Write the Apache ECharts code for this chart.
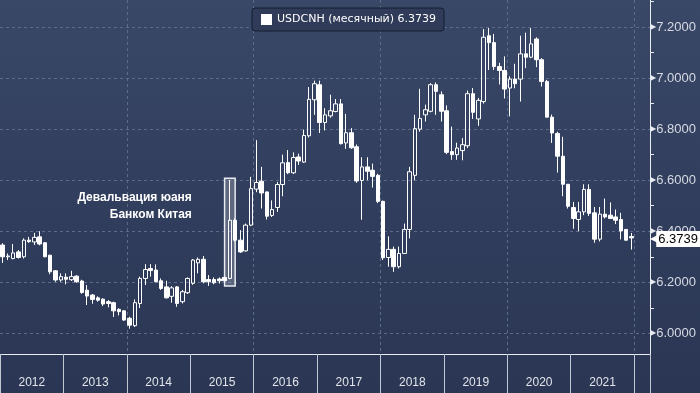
<!DOCTYPE html>
<html><head><meta charset="utf-8">
<script src="https://cdn.jsdelivr.net/npm/echarts@6/dist/echarts.min.js"></script>
<style>
html,body{margin:0;padding:0;background:#2f3c5a;}
#c{width:700px;height:393px;background:linear-gradient(to bottom,#3a4868 0%,#303d5c 55%,#2a3653 100%);}
</style>
</head><body><div id="c"></div>
<script>
// ---- data (monthly USDCNH, Jan 2012 .. Dec 2021) ----
const seriesName = 'USDCNH (месячный)';
const firstYear = 2012;
const extraMonths = 3; // empty slots after the last candle (Jan-Mar 2022)
const opens = [
6.346,6.300,6.293,6.319,6.300,6.365,6.358,6.378,6.355,6.306,6.245,6.209,
6.220,6.210,6.224,6.205,6.169,6.150,6.139,6.134,6.124,6.120,6.094,6.088,
6.059,6.030,6.117,6.215,6.254,6.248,6.206,6.182,6.145,6.182,6.124,6.159,
6.196,6.276,6.290,6.211,6.211,6.213,6.219,6.215,6.443,6.365,6.323,6.424,
6.565,6.596,6.554,6.462,6.493,6.583,6.669,6.629,6.691,6.671,6.774,6.915,
6.974,6.826,6.852,6.869,6.899,6.746,6.786,6.731,6.599,6.652,6.639,6.619,
6.517,6.297,6.329,6.261,6.313,6.407,6.619,6.800,6.856,6.870,6.974,6.935,
6.872,6.712,6.700,6.716,6.735,6.939,6.840,6.908,7.166,7.139,7.045,7.030,
6.961,6.996,6.996,7.095,7.082,7.153,7.072,6.987,6.847,6.783,6.694,6.584,
6.493,6.446,6.476,6.564,6.472,6.369,6.467,6.463,6.456,6.446,6.407,6.379];
const closes = [
6.300,6.303,6.315,6.297,6.365,6.359,6.376,6.350,6.300,6.241,6.209,6.222,
6.212,6.222,6.202,6.160,6.146,6.133,6.130,6.115,6.117,6.088,6.085,6.052,
6.032,6.120,6.215,6.250,6.246,6.202,6.176,6.139,6.178,6.117,6.163,6.215,
6.287,6.290,6.202,6.202,6.198,6.206,6.206,6.443,6.365,6.319,6.424,6.567,
6.591,6.550,6.459,6.485,6.583,6.668,6.629,6.689,6.675,6.775,6.917,6.978,
6.826,6.856,6.872,6.899,6.743,6.786,6.727,6.597,6.652,6.635,6.615,6.517,
6.296,6.329,6.261,6.313,6.407,6.633,6.802,6.842,6.876,6.974,6.948,6.870,
6.709,6.700,6.726,6.739,6.939,6.866,6.913,7.160,7.139,7.045,7.030,6.957,
6.996,6.978,7.095,7.082,7.134,7.072,6.987,6.847,6.785,6.694,6.584,6.498,
6.450,6.476,6.564,6.470,6.369,6.467,6.456,6.450,6.443,6.401,6.365,6.3739];
const lows = [
6.276,6.287,6.290,6.293,6.293,6.355,6.346,6.345,6.298,6.232,6.202,6.202,
6.192,6.205,6.198,6.155,6.111,6.116,6.124,6.107,6.102,6.064,6.070,6.049,
6.018,6.025,6.099,6.189,6.222,6.200,6.170,6.137,6.120,6.104,6.117,6.154,
6.190,6.235,6.196,6.186,6.192,6.195,6.203,6.212,6.359,6.315,6.320,6.420,
6.553,6.489,6.446,6.456,6.476,6.537,6.624,6.624,6.660,6.668,6.767,6.856,
6.785,6.795,6.845,6.866,6.740,6.723,6.723,6.590,6.445,6.600,6.571,6.510,
6.287,6.261,6.241,6.254,6.313,6.372,6.600,6.790,6.830,6.866,6.856,6.830,
6.702,6.680,6.680,6.678,6.726,6.840,6.813,6.900,7.032,7.032,6.975,6.920,
6.850,6.960,6.908,7.039,7.078,7.043,6.967,6.847,6.746,6.630,6.537,6.489,
6.410,6.400,6.463,6.460,6.355,6.360,6.450,6.448,6.428,6.368,6.363,6.328];
const highs = [
6.353,6.313,6.350,6.326,6.372,6.378,6.394,6.400,6.357,6.308,6.248,6.235,
6.235,6.245,6.228,6.210,6.189,6.154,6.145,6.137,6.130,6.124,6.098,6.091,
6.065,6.133,6.222,6.271,6.271,6.270,6.215,6.206,6.185,6.185,6.170,6.219,
6.291,6.297,6.303,6.228,6.219,6.219,6.222,6.600,6.450,6.404,6.430,6.613,
6.757,6.652,6.556,6.521,6.593,6.700,6.718,6.709,6.704,6.798,6.965,6.990,
6.990,6.882,6.935,6.918,6.918,6.860,6.804,6.740,6.690,6.690,6.665,6.625,
6.520,6.380,6.340,6.340,6.430,6.652,6.856,6.958,6.896,6.980,6.983,6.948,
6.893,6.810,6.747,6.765,6.951,6.961,6.922,7.192,7.196,7.173,7.060,7.085,
7.007,7.056,7.166,7.178,7.196,7.160,7.078,6.993,6.857,6.790,6.770,6.584,
6.515,6.515,6.584,6.584,6.495,6.495,6.528,6.513,6.485,6.472,6.407,6.393];
const yMin = 5.919, yMax = 7.306;
const annotationText = 'Девальвация юаня\nБанком Китая';
const highlightFrom = ['2015-07', 6.185];
const highlightTo = ['2015-09', 6.608];

// ---- build ----
const categories = [];
const total = opens.length + extraMonths;
for (let k = 0; k < total; k++) {
  const y = firstYear + Math.floor(k / 12), m = (k % 12) + 1;
  categories.push(y + '-' + (m < 10 ? '0' + m : m));
}
const ohlc = opens.map((o, i) => [o, closes[i], lows[i], highs[i]]);
const lastClose = closes[closes.length - 1];

const W = '#e8ebf0';
const GRIDC = '#5d6a88';
const chart = echarts.init(document.getElementById('c'), null, {renderer: 'canvas'});
chart.setOption({
  animation: false,
  backgroundColor: 'transparent',
  grid: {left: 0, right: 50, top: 0, bottom: 39, containLabel: false},
  legend: {
    left: 252, top: 8, padding: [6, 8, 6, 9],
    backgroundColor: '#2f3b58', borderColor: '#141c2e', borderWidth: 1, borderRadius: 3,
    itemWidth: 11, itemHeight: 11, itemGap: 0,
    textStyle: {color: '#ffffff', fontSize: 11, fontFamily: 'DejaVu Sans'},
    data: [{name: seriesName, icon: 'rect', itemStyle: {color: '#ffffff', borderWidth: 0}}],
    formatter: n => n + ' ' + lastClose.toFixed(4)
  },
  xAxis: {
    type: 'category', data: categories, boundaryGap: true,
    axisLine: {show: true, lineStyle: {color: W, width: 1}},
    axisTick: {show: true, interval: (i) => i % 12 === 0, length: 39, lineStyle: {color: '#c3c9d4', width: 1}},
    splitLine: {show: true, interval: (i) => i > 0 && i % 24 === 0, lineStyle: {color: GRIDC, type: [3, 3], width: 1}},
    axisLabel: {
      interval: (i) => i % 12 === 6, margin: 23,
      formatter: v => '{y|' + v.slice(0, 4) + '}',
      rich: {y: {fontSize: 12, color: '#e2e5eb', padding: [0, 5, 0, 0], fontFamily: 'Liberation Sans'}}
    }
  },
  yAxis: {
    type: 'value', position: 'right', min: yMin, max: yMax, splitNumber: 7,
    axisLine: {show: true, lineStyle: {color: W, width: 1}},
    axisTick: {show: false},
    minorTick: {show: true, splitNumber: 2, length: 4, lineStyle: {color: W}},
    splitLine: {show: true, showMinLine: false, showMaxLine: false, lineStyle: {color: GRIDC, type: [3, 3], width: 1}},
    axisLabel: {
      margin: 0, showMinLabel: false, showMaxLabel: false,
      formatter: v => '{t|▶}{v|' + v.toFixed(4) + '}',
      rich: {
        t: {fontSize: 8, color: W, fontFamily: 'DejaVu Sans'},
        v: {fontSize: 13, color: '#d6dae3', fontFamily: 'Liberation Sans'}
      }
    }
  },
  series: [{
    type: 'candlestick', name: seriesName, data: ohlc, barWidth: 4,
    itemStyle: {color: 'rgba(0,0,0,0)', color0: '#ffffff', borderColor: '#ffffff', borderColor0: '#ffffff', borderWidth: 1},
    markArea: {
      silent: true,
      itemStyle: {color: 'rgba(255,255,255,0.22)', borderColor: '#e8ebf0', borderWidth: 1.5},
      label: {
        show: true, position: [-32, 12], align: 'right', verticalAlign: 'top',
        color: '#ffffff', fontSize: 12, fontWeight: 'bold', lineHeight: 17, fontFamily: 'Liberation Sans',
        formatter: annotationText
      },
      data: [[{xAxis: highlightFrom[0], yAxis: highlightFrom[1]}, {xAxis: highlightTo[0], yAxis: highlightTo[1]}]]
    },
    markLine: {
      silent: true, symbol: ['none', 'none'],
      lineStyle: {color: 'rgba(0,0,0,0)', width: 0},
      label: {
        show: true, position: 'end', distance: 0,
        formatter: () => '{a|◀}{b|' + lastClose.toFixed(4) + '}',
        rich: {
          a: {color: '#ffffff', fontSize: 12, fontFamily: 'DejaVu Sans', padding: [0, -3, 0, 0]},
          b: {backgroundColor: '#ffffff', color: '#000000', fontSize: 13, padding: [2, 3, 1, 2], fontFamily: 'Liberation Sans'}
        }
      },
      data: [{yAxis: lastClose}]
    }
  }]
});
</script></body></html>
